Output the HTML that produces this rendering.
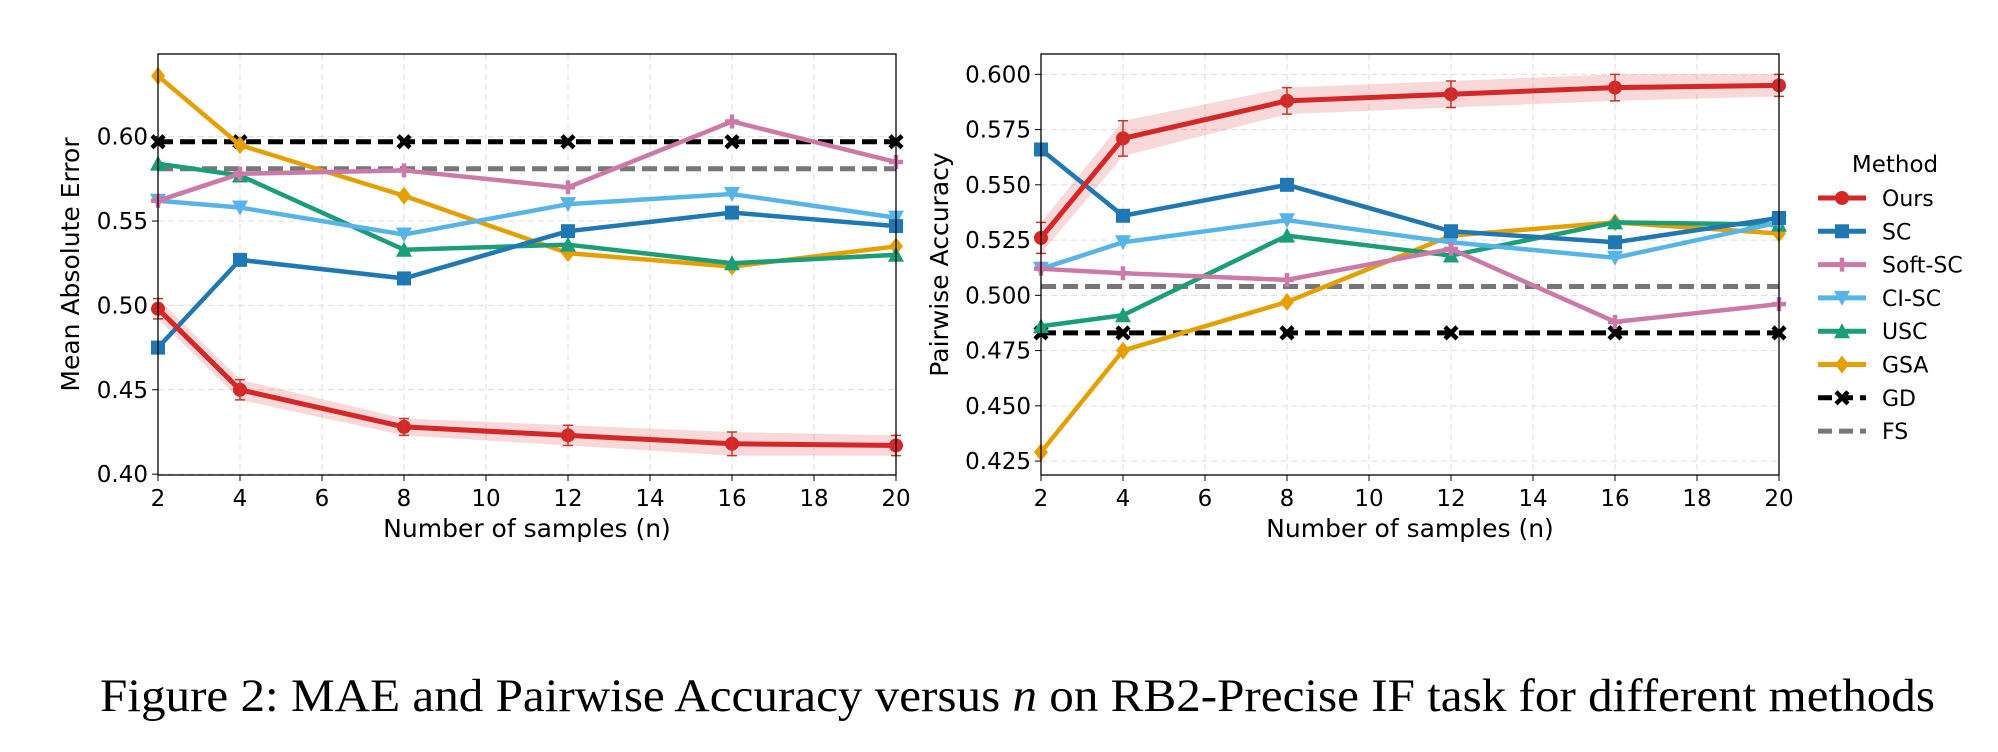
<!DOCTYPE html>
<html><head><meta charset="utf-8"><style>
body{margin:0;background:#fff;width:1998px;height:752px;overflow:hidden}
svg{display:block}
text{font-family:"DejaVu Sans","Liberation Sans",sans-serif}
</style></head><body>
<svg id="fig" width="1998" height="752" xmlns="http://www.w3.org/2000/svg">
<text x="100" y="711" font-size="47" textLength="1835" lengthAdjust="spacingAndGlyphs" style="font-family:'Liberation Serif',serif">Figure 2: MAE and Pairwise Accuracy versus <tspan font-style="italic">n</tspan> on RB2-Precise IF task for different methods</text>
</svg>
<script>
const xs=[2,4,8,12,16,20];
const xTicks=[2,4,6,8,10,12,14,16,18,20];
const names=["Ours","SC","Soft-SC","CI-SC","USC","GSA","GD","FS"];
const colors=["#d62728","#1f77b4","#cc79a7","#56b4e9","#1b9e77","#e69f00","#000000","#777777"];
const markers=["o","s","p","v","^","D","x",""];
const maeOurs=[0.498,0.450,0.428,0.423,0.418,0.417];
const maeOursErr=[0.006,0.006,0.005,0.006,0.007,0.006];
const maeSC=[0.475,0.527,0.516,0.544,0.555,0.547];
const maeSoft=[0.562,0.578,0.580,0.570,0.609,0.585];
const maeCI=[0.562,0.558,0.542,0.560,0.566,0.552];
const maeUSC=[0.584,0.577,0.533,0.536,0.525,0.530];
const maeGSA=[0.636,0.595,0.565,0.531,0.523,0.535];
const maeGD=0.597, maeFS=0.581;
const maeTicks=[0.40,0.45,0.50,0.55,0.60];
const paOurs=[0.526,0.571,0.588,0.591,0.594,0.595];
const paOursErr=[0.007,0.008,0.006,0.006,0.006,0.005];
const paSC=[0.566,0.536,0.550,0.529,0.524,0.535];
const paSoft=[0.512,0.510,0.507,0.521,0.488,0.496];
const paCI=[0.512,0.524,0.534,0.524,0.517,0.533];
const paUSC=[0.486,0.491,0.527,0.518,0.533,0.532];
const paGSA=[0.429,0.475,0.497,0.527,0.533,0.528];
const paGD=0.483, paFS=0.504;
const paTicks=[0.425,0.450,0.475,0.500,0.525,0.550,0.575,0.600];

const NS="http://www.w3.org/2000/svg";
const svg=document.getElementById('fig');
function el(tag,attrs,parent){const e=document.createElementNS(NS,tag);for(const k in attrs)e.setAttribute(k,attrs[k]);(parent||svg).appendChild(e);return e;}
function marker(g,m,x,y,c){
 let e;
 if(m==="o")e=el('circle',{cx:x,cy:y,r:7,fill:c},g);
 else if(m==="s")e=el('rect',{x:x-7,y:y-7,width:14,height:14,fill:c},g);
 else if(m==="p")e=el('path',{d:`M${x-7},${y}L${x+7},${y}M${x},${y-7}L${x},${y+7}`,stroke:c,"stroke-width":4.5},g);
 else if(m==="v")e=el('path',{d:`M${x-8},${y-7}L${x+8},${y-7}L${x},${y+8}Z`,fill:c},g);
 else if(m==="^")e=el('path',{d:`M${x-8},${y+7}L${x+8},${y+7}L${x},${y-8}Z`,fill:c},g);
 else if(m==="D")e=el('path',{d:`M${x},${y-9}L${x+7},${y}L${x},${y+9}L${x-7},${y}Z`,fill:c},g);
 else if(m==="x")e=el('path',{d:`M${x-6},${y-6}L${x+6},${y+6}M${x-6},${y+6}L${x+6},${y-6}`,stroke:c,"stroke-width":4.5},g);
 if(e){}
}
function chart(id,L,R,T,B,ymin,ymax,ticks,dec,ylabel,series,ours,err,gd,fs){
 const X=v=>L+(v-2)/18*(R-L), Y=v=>B-(v-ymin)/(ymax-ymin)*(B-T);
 const g=el('g',{});
 
 
 xTicks.forEach(t=>{const l=el('line',{x1:X(t),x2:X(t),y1:T,y2:B,stroke:"#ddd","stroke-dasharray":"6,4","stroke-width":1},g);
  const k=el('line',{x1:X(t),x2:X(t),y1:B,y2:B+6,stroke:"#000"},g);
  const tx=el('text',{x:X(t),y:B+31,"font-size":23,"text-anchor":"middle"},g);tx.textContent=t;});
 ticks.forEach(t=>{const l=el('line',{x1:L,x2:R,y1:Y(t),y2:Y(t),stroke:"#ddd","stroke-dasharray":"6,4"},g);
  const k=el('line',{x1:L-6,x2:L,y1:Y(t),y2:Y(t),stroke:"#000"},g);
  const tx=el('text',{x:L-10,y:Y(t)+8,"font-size":23,"text-anchor":"end"},g);tx.textContent=t.toFixed(dec);});
 let d="";xs.forEach((x,i)=>d+=(i?"L":"M")+X(x)+","+Y(ours[i]+err[i]));
 for(let i=xs.length-1;i>=0;i--)d+="L"+X(xs[i])+","+Y(ours[i]-err[i]);
 const band=el('path',{d:d+"Z",fill:"#d62728","fill-opacity":0.18},g);
 [[fs,7],[gd,6]].forEach(([v,ci])=>{const l=el('line',{x1:L,x2:R,y1:Y(v),y2:Y(v),stroke:colors[ci],"stroke-width":5,"stroke-dasharray":"15,7"},g);
  if(markers[ci])xs.forEach(x=>marker(g,markers[ci],X(x),Y(v),colors[ci]));});
 const all=[ours].concat(series);
 for(let s=all.length-1;s>=0;s--){const vals=all[s];
  const pl=el('polyline',{points:xs.map((x,i)=>X(x)+","+Y(vals[i])).join(" "),fill:"none",stroke:colors[s],"stroke-width":s===0?5:4.5,"stroke-linejoin":"round"},g);
  
  xs.forEach((x,i)=>marker(g,markers[s],X(x),Y(vals[i]),colors[s]));}
 xs.forEach((x,i)=>{const e=el('path',{d:`M${X(x)},${Y(ours[i]+err[i])}L${X(x)},${Y(ours[i]-err[i])}M${X(x)-5},${Y(ours[i]+err[i])}L${X(x)+5},${Y(ours[i]+err[i])}M${X(x)-5},${Y(ours[i]-err[i])}L${X(x)+5},${Y(ours[i]-err[i])}`,stroke:"#c0392b","stroke-width":1.5,fill:"none"},g);});
 const fr=el('rect',{x:L,y:T,width:R-L,height:B-T,fill:"none",stroke:"#000","stroke-width":1.3},g);
 const xl=el('text',{x:(L+R)/2,y:B+62,"font-size":25,"text-anchor":"middle"},g);xl.textContent="Number of samples (n)";
 const yl=el('text',{x:0,y:0,"font-size":25,"text-anchor":"middle",transform:`translate(${L-(dec==3?93:79)},${(T+B)/2}) rotate(-90)`},g);yl.textContent=ylabel;
}
chart('mae-chart',158,896,54,475,0.3995,0.649,maeTicks,2,"Mean Absolute Error",[maeSC,maeSoft,maeCI,maeUSC,maeGSA],maeOurs,maeOursErr,maeGD,maeFS);
chart('pairwise-chart',1041,1779,54,475,0.4187,0.6092,paTicks,3,"Pairwise Accuracy",[paSC,paSoft,paCI,paUSC,paGSA],paOurs,paOursErr,paGD,paFS);
const lg=el('g',{});


const lt=el('text',{x:1895,y:172,"font-size":23,"text-anchor":"middle"},lg);lt.textContent="Method";


names.forEach((n,i)=>{const y=198+i*33.3;
 const ent=el('g',{},lg);
 
 
 el('line',{x1:1818,x2:1866,y1:y,y2:y,stroke:colors[i],"stroke-width":5,"stroke-dasharray":i>=6?"14,7":"none"},ent);
 if(markers[i])marker(ent,markers[i],1842,y,colors[i]);
 const t=el('text',{x:1882,y:y+8,"font-size":22},ent);t.textContent=n;});
</script>
</body></html>
